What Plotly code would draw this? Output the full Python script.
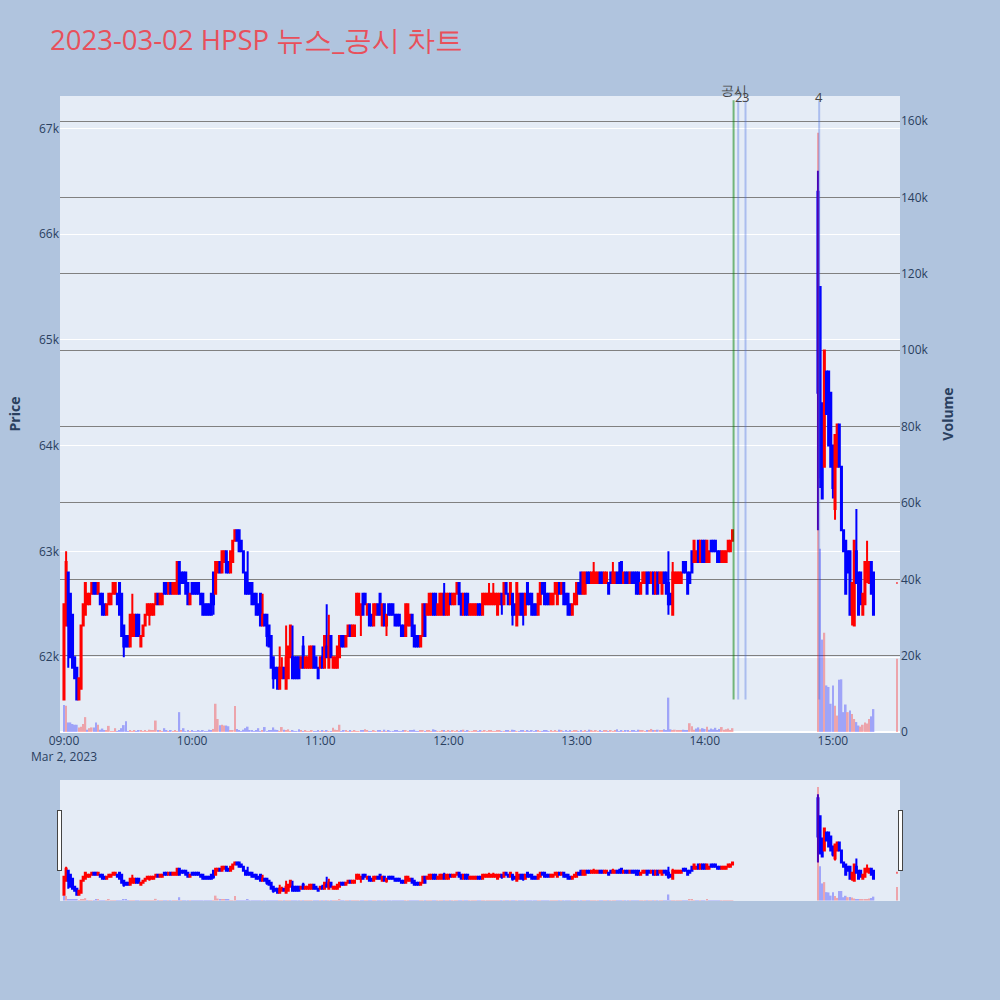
import pandas as pd
import plotly.graph_objects as go
from plotly.subplots import make_subplots

TITLE = "2023-03-02 HPSP 뉴스_공시 차트"

PREV_DAY_CLOSE = 63000
SESSION_START = "2023-03-02 09:00"
RESUME_START = "2023-03-02 14:53"
CLOSE_AUCTION = "2023-03-02 15:30"

# 1-minute candles, prices in units of 100 KRW
# 09:00 - 14:13 (before the trading halt)
am_open = [
    616, 623, 628, 626, 624, 620, 619, 616, 617, 623,
    624, 625, 625, 626, 627, 627, 626, 626, 626, 625,
    624, 625, 625, 626, 626, 626, 627, 626, 623, 622,
    622, 621, 622, 622, 624, 624, 621, 622, 623, 624,
    624, 624, 624, 625, 626, 625, 625, 627, 627, 626,
    627, 626, 626, 626, 629, 628, 628, 628, 627, 625,
    627, 627, 627, 627, 626, 626, 625, 625, 625, 626,
    628, 626, 628, 629, 628, 629, 630, 629, 628, 629,
    631, 632, 632, 631, 630, 628, 627, 627, 627, 626,
    626, 625, 626, 623, 624, 624, 623, 622, 620, 619,
    619, 617, 618, 619, 617, 618, 620, 620, 620, 620,
    620, 619, 621, 619, 619, 619, 619, 621, 620, 619,
    619, 620, 619, 621, 619, 622, 619, 619, 619, 620,
    622, 622, 621, 622, 623, 622, 622, 624, 624, 624,
    626, 626, 624, 625, 624, 623, 624, 625, 626, 623,
    625, 623, 625, 625, 625, 624, 624, 624, 623, 623,
    622, 623, 623, 624, 623, 622, 622, 621, 622, 625,
    624, 624, 624, 626, 626, 624, 624, 624, 626, 624,
    624, 626, 625, 625, 626, 627, 626, 624, 626, 626,
    624, 624, 624, 624, 625, 625, 624, 625, 625, 625,
    625, 625, 625, 624, 625, 626, 625, 627, 626, 625,
    626, 625, 623, 624, 626, 626, 624, 627, 626, 626,
    625, 625, 624, 625, 627, 627, 626, 626, 625, 625,
    626, 625, 627, 626, 627, 626, 626, 625, 624, 625,
    625, 627, 628, 626, 626, 628, 628, 627, 627, 627,
    627, 628, 628, 627, 627, 627, 628, 627, 627, 628,
    628, 629, 627, 628, 628, 627, 628, 628, 628, 628,
    626, 627, 627, 628, 628, 627, 628, 626, 628, 627,
    626, 628, 628, 627, 626, 624, 627, 627, 627, 627,
    629, 629, 628, 628, 630, 629, 629, 631, 629, 631,
    631, 629, 629, 631, 631, 631, 630, 630, 629, 629,
    629, 630, 630, 631,
]
am_high = [
    625, 630, 628, 626, 624, 620, 619, 618, 623, 625,
    627, 626, 626, 627, 627, 627, 627, 626, 626, 625,
    625, 626, 626, 627, 627, 626, 627, 626, 623, 622,
    622, 624, 626, 624, 624, 624, 622, 623, 624, 625,
    625, 625, 625, 626, 626, 626, 626, 627, 627, 627,
    627, 627, 627, 629, 629, 628, 628, 628, 627, 626,
    627, 627, 627, 627, 626, 626, 625, 625, 625, 626,
    628, 629, 629, 629, 630, 630, 630, 629, 630, 631,
    632, 632, 632, 631, 630, 628, 630, 627, 627, 626,
    626, 625, 626, 626, 624, 624, 623, 622, 620, 619,
    619, 621, 620, 619, 623, 621, 623, 623, 620, 620,
    620, 620, 622, 620, 620, 621, 621, 621, 620, 619,
    620, 621, 622, 625, 624, 622, 620, 620, 621, 622,
    622, 622, 622, 623, 623, 623, 623, 626, 626, 625,
    626, 626, 625, 625, 624, 625, 625, 625, 626, 625,
    625, 624, 625, 625, 625, 624, 624, 624, 623, 623,
    625, 625, 624, 624, 623, 622, 622, 622, 625, 625,
    625, 626, 626, 626, 626, 625, 626, 626, 627, 626,
    626, 626, 626, 626, 627, 627, 626, 626, 626, 626,
    625, 625, 625, 625, 625, 625, 626, 626, 626, 627,
    626, 627, 626, 626, 626, 626, 627, 627, 626, 627,
    626, 625, 627, 626, 626, 626, 626, 627, 626, 626,
    625, 625, 626, 627, 627, 627, 626, 626, 626, 626,
    627, 627, 627, 627, 627, 626, 626, 625, 625, 626,
    627, 627, 628, 628, 628, 628, 628, 628, 629, 628,
    628, 628, 628, 628, 628, 627, 628, 629, 628, 628,
    629, 629, 628, 628, 628, 628, 628, 628, 628, 628,
    627, 628, 628, 628, 628, 628, 628, 628, 628, 628,
    628, 628, 628, 630, 626, 629, 628, 628, 628, 628,
    629, 629, 628, 628, 630, 631, 630, 631, 631, 631,
    631, 631, 630, 631, 631, 631, 630, 630, 630, 630,
    630, 631, 631, 632,
]
am_low = [
    616, 623, 619, 620, 619, 618, 616, 616, 617, 623,
    624, 625, 625, 626, 626, 626, 626, 625, 624, 624,
    624, 625, 625, 626, 626, 625, 624, 622, 620, 621,
    621, 621, 622, 622, 622, 622, 621, 622, 623, 624,
    623, 624, 624, 625, 625, 625, 625, 626, 626, 626,
    626, 626, 626, 626, 626, 627, 627, 626, 625, 625,
    626, 626, 626, 626, 625, 624, 624, 624, 624, 624,
    624, 626, 628, 628, 628, 629, 628, 628, 628, 629,
    631, 631, 630, 630, 628, 626, 626, 626, 625, 625,
    624, 624, 623, 623, 623, 621, 621, 619, 617, 618,
    617, 617, 618, 618, 617, 618, 620, 618, 618, 618,
    618, 619, 619, 619, 619, 619, 619, 619, 619, 618,
    619, 619, 619, 620, 619, 620, 619, 619, 619, 620,
    621, 621, 621, 622, 622, 622, 622, 624, 624, 622,
    624, 625, 624, 623, 623, 623, 624, 624, 624, 623,
    623, 622, 624, 624, 624, 623, 623, 623, 622, 622,
    622, 623, 623, 622, 621, 621, 621, 621, 622, 622,
    624, 624, 624, 624, 624, 624, 624, 624, 624, 624,
    624, 625, 625, 625, 626, 625, 624, 624, 624, 624,
    624, 624, 624, 624, 624, 624, 624, 625, 625, 625,
    625, 625, 625, 624, 625, 624, 625, 626, 625, 625,
    623, 624, 623, 624, 624, 623, 624, 625, 625, 624,
    624, 624, 624, 625, 626, 625, 625, 625, 625, 625,
    626, 625, 626, 626, 625, 625, 624, 624, 624, 625,
    625, 626, 626, 626, 626, 627, 627, 627, 627, 627,
    627, 627, 627, 627, 627, 626, 627, 627, 627, 627,
    627, 627, 627, 627, 627, 627, 627, 627, 626, 626,
    626, 627, 627, 626, 627, 627, 626, 626, 626, 627,
    626, 627, 626, 624, 625, 624, 627, 627, 627, 627,
    628, 628, 626, 627, 628, 629, 629, 629, 629, 629,
    629, 629, 629, 630, 630, 630, 629, 629, 629, 629,
    629, 630, 630, 631,
]
am_close = [
    625, 629, 623, 620, 619, 618, 616, 618, 623, 625,
    627, 626, 626, 627, 626, 626, 627, 625, 624, 624,
    625, 626, 626, 627, 627, 625, 624, 622, 621, 621,
    621, 624, 624, 624, 622, 622, 622, 623, 624, 625,
    625, 625, 625, 626, 625, 626, 626, 626, 626, 627,
    626, 627, 627, 629, 626, 627, 627, 626, 625, 626,
    626, 626, 626, 626, 625, 624, 624, 624, 624, 624,
    625, 629, 629, 628, 630, 630, 628, 628, 630, 631,
    632, 631, 630, 630, 628, 626, 626, 626, 625, 625,
    624, 624, 623, 624, 623, 622, 621, 619, 618, 618,
    617, 619, 619, 618, 620, 621, 623, 618, 618, 618,
    618, 620, 619, 620, 620, 621, 621, 619, 619, 618,
    620, 619, 622, 620, 622, 620, 620, 620, 621, 622,
    621, 621, 622, 623, 622, 623, 623, 626, 626, 625,
    624, 625, 625, 623, 623, 625, 625, 624, 624, 625,
    623, 624, 624, 624, 624, 623, 623, 623, 622, 622,
    625, 625, 624, 622, 621, 621, 621, 622, 625, 622,
    625, 626, 626, 624, 624, 625, 626, 626, 624, 626,
    626, 625, 626, 626, 627, 625, 624, 626, 624, 624,
    625, 625, 625, 625, 624, 624, 626, 626, 626, 626,
    626, 626, 626, 626, 626, 625, 627, 626, 625, 627,
    624, 624, 627, 626, 624, 624, 626, 625, 625, 624,
    624, 624, 626, 627, 626, 625, 625, 625, 626, 626,
    627, 627, 626, 627, 625, 625, 624, 624, 625, 626,
    627, 626, 626, 628, 628, 627, 627, 628, 628, 628,
    628, 627, 627, 628, 628, 626, 627, 628, 628, 627,
    627, 627, 628, 627, 627, 628, 627, 627, 626, 626,
    627, 628, 628, 626, 627, 628, 626, 628, 626, 628,
    628, 627, 626, 625, 625, 628, 628, 628, 628, 628,
    628, 628, 626, 627, 628, 631, 630, 629, 631, 629,
    629, 631, 630, 630, 630, 630, 629, 629, 630, 630,
    630, 631, 631, 632,
]
am_volume = [
    7100, 6900, 2500, 2500, 2100, 1900, 1900, 1200, 1400, 2100,
    3900, 600, 1000, 1200, 1200, 2500, 1900, 600, 900, 400,
    500, 1600, 200, 200, 1000, 200, 500, 1000, 1800, 2800,
    200, 300, 100, 400, 200, 300, 500, 200, 300, 200,
    600, 300, 400, 3000, 300, 500, 200, 1000, 300, 200,
    400, 100, 300, 200, 5200, 400, 1000, 200, 300, 100,
    300, 200, 100, 400, 200, 300, 100, 200, 600, 300,
    800, 7400, 3400, 1800, 1900, 1700, 1700, 1500, 400, 300,
    6800, 800, 300, 200, 600, 1000, 1400, 300, 500, 200,
    300, 1000, 200, 300, 1300, 200, 400, 300, 1200, 600,
    300, 200, 1300, 600, 400, 700, 200, 300, 100, 200,
    700, 300, 200, 400, 100, 200, 300, 200, 100, 300,
    200, 400, 200, 300, 100, 200, 1100, 600, 300, 1900,
    200, 400, 300, 100, 500, 200, 300, 200, 100, 300,
    400, 700, 300, 200, 100, 400, 200, 500, 300, 100,
    600, 200, 300, 100, 200, 400, 300, 200, 100, 500,
    300, 200, 400, 300, 600, 200, 100, 300, 500, 200,
    400, 300, 200, 700, 300, 100, 200, 400, 300, 200,
    500, 100, 300, 200, 400, 100, 300, 600, 200, 300,
    100, 200, 400, 300, 200, 500, 100, 300, 200, 400,
    300, 100, 200, 300, 500, 200, 100, 400, 300, 200,
    600, 300, 200, 100, 400, 300, 200, 500, 100, 300,
    200, 400, 300, 200, 100, 300, 500, 200, 400, 100,
    300, 200, 600, 300, 200, 400, 100, 300, 200, 500,
    300, 200, 400, 100, 300, 200, 600, 300, 200, 400,
    100, 300, 200, 500, 300, 100, 400, 200, 300, 700,
    200, 300, 100, 400, 300, 200, 500, 300, 200, 600,
    400, 300, 200, 500, 300, 800, 400, 300, 600, 500,
    400, 700, 500, 9000, 700, 400, 600, 300, 500, 400,
    600, 300, 500, 2300, 1500, 600, 900, 1200, 700, 1000,
    800, 1400, 600, 900, 700, 1100, 500, 800, 1300, 600,
    700, 900, 500, 1000,
]

# 14:53 - 15:19 (after trading resumed)
pm_open = [664, 655, 644, 638, 647, 647, 645, 640, 634, 638,
           642, 638, 632, 631, 630, 630, 624, 623, 630, 628,
           628, 624, 625, 628, 627, 629, 628]
pm_high = [666, 655, 644, 649, 647, 647, 645, 640, 641, 642,
           642, 638, 632, 631, 630, 630, 627, 631, 634, 628,
           628, 626, 629, 631, 629, 629, 628]
pm_low = [632, 636, 635, 638, 643, 640, 638, 635, 633, 638,
          638, 632, 630, 626, 628, 624, 623, 623, 627, 624,
          625, 624, 625, 627, 627, 626, 624]
pm_close = [645, 637, 635, 649, 643, 640, 638, 636, 641, 642,
            638, 632, 630, 626, 628, 624, 627, 631, 627, 624,
            625, 626, 629, 629, 629, 626, 624]
pm_volume = [157000, 48000, 24200, 26000, 12200, 11800, 7400, 12200, 6900, 4300,
             13700, 13800, 5200, 7200, 5200, 5600, 4700, 3400, 2600, 1700,
             1400, 1900, 2500, 2200, 3400, 4100, 6000]

# 15:30 closing single-price auction
close_price = 627
close_volume = 19200

NEWS_TIMES = ["2023-03-02 14:13:30", "2023-03-02 14:15:40",
              "2023-03-02 14:19:05", "2023-03-02 14:53:35"]
NEWS_LABELS = ["공시", "2", "3", "4"]
NEWS_IS_DISCLOSURE = [True, False, False, False]

UP_COLOR = "red"
DOWN_COLOR = "blue"

# ---- build frame ----
times = (
    list(pd.date_range(SESSION_START, periods=len(am_open), freq="min"))
    + list(pd.date_range(RESUME_START, periods=len(pm_open), freq="min"))
    + [pd.Timestamp(CLOSE_AUCTION)]
)
df = pd.DataFrame({
    "time": times,
    "open": (am_open + pm_open + [close_price]),
    "high": (am_high + pm_high + [close_price]),
    "low": (am_low + pm_low + [close_price]),
    "close": (am_close + pm_close + [close_price]),
    "volume": am_volume + pm_volume + [close_volume],
})
for col in ["open", "high", "low", "close"]:
    df[col] = df[col] * 100

prev = df["close"].shift(1).fillna(PREV_DAY_CLOSE)
vol_up = (df["close"] > prev) | ((df["close"] == prev) & (df["close"] >= df["open"]))
vol_colors = [UP_COLOR if u else DOWN_COLOR for u in vol_up]

line_bottom = df["low"].min()
line_top = df["high"].max() * 1.01

fig = make_subplots(specs=[[{"secondary_y": True}]])

fig.add_trace(
    go.Candlestick(
        x=df["time"],
        open=df["open"],
        high=df["high"],
        low=df["low"],
        close=df["close"],
        increasing=dict(line=dict(color=UP_COLOR), fillcolor=UP_COLOR),
        decreasing=dict(line=dict(color=DOWN_COLOR), fillcolor=DOWN_COLOR),
        showlegend=False,
        name="Price",
    ),
    secondary_y=False,
)
fig.add_trace(
    go.Bar(
        x=df["time"],
        y=df["volume"],
        marker=dict(color=vol_colors, line_width=0),
        opacity=0.3,
        showlegend=False,
        name="Volume",
    ),
    secondary_y=True,
)

for t, label, disclosure in zip(NEWS_TIMES, NEWS_LABELS, NEWS_IS_DISCLOSURE):
    fig.add_shape(
        type="line",
        xref="x",
        yref="y",
        x0=t,
        x1=t,
        y0=line_bottom,
        y1=line_top,
        line=dict(color="green" if disclosure else "royalblue", width=2),
        opacity=0.5 if disclosure else 0.35,
    )
    fig.add_annotation(
        x=t,
        xref="x",
        y=line_top,
        yref="y",
        yanchor="middle",
        yshift=10 if disclosure else 3,
        text=label,
        showarrow=False,
        font=dict(size=13, color="#444"),
    )

x_range = ["2023-03-02 08:58:08", "2023-03-02 15:31:25"]

fig.update_layout(
    title=dict(text=TITLE, x=0.05, xanchor="left", y=0.96, yanchor="middle",
               font=dict(size=27.5, color="#E8505B")),
    width=1000,
    height=1000,
    autosize=False,
    showlegend=False,
    paper_bgcolor="lightsteelblue",
    margin=dict(l=60, r=100, t=96, b=100),
    bargap=0.2,
)
fig.update_xaxes(
    domain=[0, 1],
    range=x_range,
    dtick=3600000,
    rangeslider=dict(visible=True, range=x_range),
)
fig.update_yaxes(
    title_text="<b>Price</b>",
    range=[line_bottom * 0.995, df["high"].max() * 1.0106],
    dtick=1000,
    secondary_y=False,
)
fig.update_yaxes(
    title_text="<b>Volume</b>",
    range=[0, 166600],
    dtick=20000,
    gridcolor="gray",
    secondary_y=True,
)

fig.write_html(
    "out.html",
    config={"displayModeBar": False},
    post_script="document.body.style.margin = '0';",
)
